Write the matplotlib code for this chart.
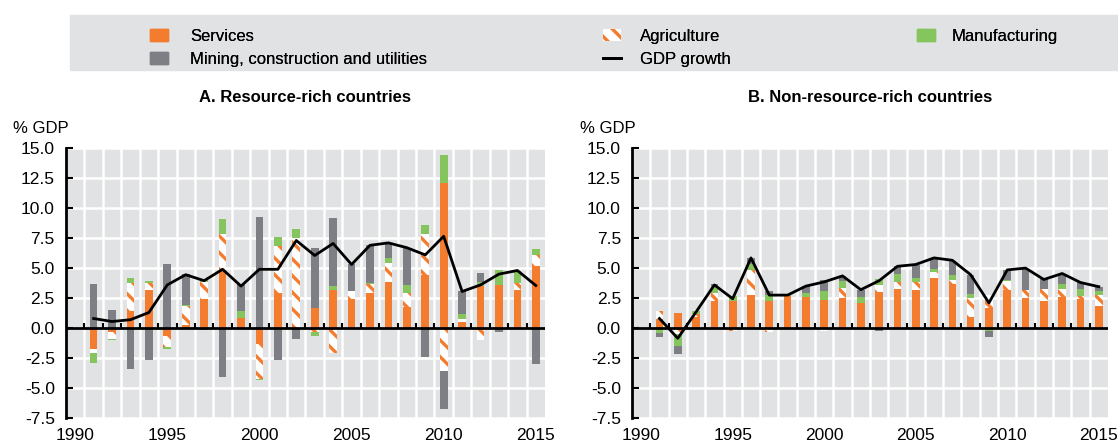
import numpy as np
import matplotlib
matplotlib.use('Agg')
import matplotlib.pyplot as plt
from matplotlib.patches import Patch, Rectangle
from matplotlib.lines import Line2D

plt.rcParams['font.family'] = ['Liberation Sans', 'DejaVu Sans']
plt.rcParams['hatch.linewidth'] = 2.4
plt.rcParams['hatch.color'] = '#f37c2f'

years = list(range(1990, 2016))
data_years = list(range(1991, 2016))
year_labels = ['1990', '1995', '2000', '2005', '2010', '2015']

# Panel A: resource-rich countries (% GDP contributions)
services_a = [-1.7, -0.35, 1.45, 3.2, -0.65, 0.3, 2.4, 4.7, 0.85, -1.3, 2.9, 0.0, 1.7,
              3.2, 2.4, 2.95, 3.85, 1.75, 4.4, 12.05, 0.5, 3.5, 3.6, 3.2, 5.15]
agri_a = [-0.4, -0.55, 2.3, 0.55, -0.95, 1.55, 1.45, 3.1, -0.15, -2.9, 3.9, 7.5, -0.3,
          -2.1, 0.7, 0.7, 1.6, 1.15, 3.4, -3.6, 0.3, -0.95, 0.0, 0.55, 0.9]
manuf_a = [-0.8, -0.1, 0.4, 0.15, -0.1, 0.1, 0.2, 1.25, 0.6, -0.1, 0.75, 0.75, -0.35,
           0.35, 0.0, 0.15, 0.35, 0.7, 0.75, 2.35, 0.4, 0.35, 1.2, 1.0, 0.5]
mining_a = [3.7, 1.55, -3.4, -2.65, 5.3, 2.55, -0.15, -4.1, 2.2, 9.25, -2.65, -0.9, 4.95,
            5.6, 2.2, 3.1, 1.3, 3.1, -2.4, -3.1, 1.9, 0.7, -0.3, 0.0, -3.0]
gdp_a = [0.8, 0.55, 0.7, 1.3, 3.6, 4.45, 3.95, 4.9, 3.5, 4.9, 4.9, 7.3, 6.05,
         7.05, 5.3, 6.9, 7.1, 6.7, 6.1, 7.65, 3.05, 3.6, 4.5, 4.8, 3.55]

# Panel B: non-resource-rich countries
services_b = [0.75, 1.3, 0.95, 2.25, 2.25, 2.8, 2.3, 2.65, 2.6, 2.35, 2.5, 2.1, 3.05,
              3.3, 3.2, 4.2, 3.7, 0.95, 1.7, 3.2, 2.55, 2.3, 2.6, 2.4, 1.85]
agri_b = [0.7, -0.5, 0.25, 0.65, -0.2, 2.0, -0.3, 0.0, -0.1, -0.2, 0.85, 0.0, 0.55,
          0.55, 0.65, 0.45, 0.35, 1.55, 1.1, 0.7, 0.65, 0.95, 0.7, 0.3, 0.95]
manuf_b = [-0.4, -1.0, 0.2, 0.6, 0.45, 0.55, 0.5, 0.15, 0.35, 0.75, 0.55, 0.5, 0.5,
           0.65, 0.3, 0.3, 0.35, 0.35, -0.2, 0.15, 0.0, 0.05, 0.4, 0.55, 0.3]
mining_b = [-0.3, -0.65, 0.0, 0.15, 0.0, 0.5, 0.3, 0.0, 0.6, 0.95, 0.4, 0.6, -0.2,
            0.65, 1.1, 0.8, 1.2, 1.55, -0.5, 0.75, 1.75, 0.8, 0.75, 0.6, 0.35]
gdp_b = [0.8, -0.85, 1.35, 3.6, 2.45, 5.85, 2.75, 2.75, 3.5, 3.85, 4.35, 3.2, 3.95,
         5.15, 5.3, 5.85, 5.65, 4.45, 2.1, 4.85, 5.0, 4.05, 4.55, 3.8, 3.45]

ORANGE = '#f37c2f'
GREY = '#7e7f84'
GREEN = '#86c55d'
BG = '#e1e2e4'
styles = {
    'Services': dict(color=ORANGE),
    'Agriculture': dict(facecolor='white', edgecolor=ORANGE, hatch='\\\\', linewidth=0),
    'Manufacturing': dict(color=GREEN),
    'Mining, construction and utilities': dict(color=GREY),
}


def draw_panel(ax, series, gdp, title):
    x = np.array([years.index(y) for y in data_years])
    pos = np.zeros(len(x))
    neg = np.zeros(len(x))
    for name, vals in series:
        vals = np.array(vals)
        bottom = np.where(vals >= 0, pos, neg)
        ax.bar(x, vals, width=0.42, bottom=bottom, zorder=3, **styles[name])
        pos += np.clip(vals, 0, None)
        neg += np.clip(vals, None, 0)
    ax.plot(x, gdp, color='black', lw=2, zorder=5)

    ax.set_facecolor(BG)
    ax.set_xlim(-0.5, len(years) - 0.5)
    ax.set_ylim(-7.5, 15)
    ax.set_yticks(np.arange(-7.5, 15.1, 2.5))
    ax.set_yticklabels([f'{v:.1f}' for v in np.arange(-7.5, 15.1, 2.5)])
    ax.set_xticks([years.index(int(l)) for l in year_labels])
    ax.set_xticklabels(year_labels)
    bounds = np.arange(0.5, len(years) - 0.5, 1)
    ax.set_xticks(bounds, minor=True)
    ax.grid(which='minor', axis='x', color='white', lw=1.8, zorder=1)
    ax.grid(which='major', axis='y', color='white', lw=1.8, zorder=1)
    ax.axhline(0, color='black', lw=2, zorder=6)
    ax.vlines(bounds, 0, 0.4, color='black', lw=1.5, zorder=6)
    for s in ['top', 'right', 'bottom']:
        ax.spines[s].set_visible(False)
    ax.spines['left'].set_linewidth(2)
    ax.tick_params(axis='y', direction='in', length=5, width=1.5, labelsize=12.5, pad=8)
    ax.tick_params(axis='x', which='both', length=0, labelsize=12.5, pad=7)
    ax.set_title(title, fontweight='bold', fontsize=12, pad=33)
    ax.text(-0.11, 1.045, '% GDP', transform=ax.transAxes, fontsize=12, ha='left', va='bottom')


fig = plt.figure(figsize=(11.18, 4.42), dpi=100)
ax1 = fig.add_axes([0.059, 0.054, 0.4285, 0.611])
ax2 = fig.add_axes([0.5653, 0.054, 0.4257, 0.611])

draw_panel(ax1, [('Services', services_a), ('Agriculture', agri_a),
                 ('Manufacturing', manuf_a), ('Mining, construction and utilities', mining_a)],
           gdp_a, 'A. Resource-rich countries')
draw_panel(ax2, [('Services', services_b), ('Agriculture', agri_b),
                 ('Manufacturing', manuf_b), ('Mining, construction and utilities', mining_b)],
           gdp_b, 'B. Non-resource-rich countries')

# legend box
fig.patches.append(Rectangle((70 / 1118, 1 - 70 / 442), 1048 / 1118, 55 / 442,
                             transform=fig.transFigure, color=BG, zorder=0))
leg_kw = dict(loc='upper left', frameon=False, fontsize=12, handlelength=1.1,
              handleheight=0.75, labelspacing=0.47, borderpad=0, borderaxespad=0)
groups = [
    ([Patch(label='Services', **styles['Services']),
      Patch(label='Mining, construction and utilities', **styles['Mining, construction and utilities'])],
     150, 1.3),
    ([Patch(label='Agriculture', **styles['Agriculture']),
      Line2D([], [], color='black', lw=2, label='GDP growth')],
     603, 1.1),
    ([Patch(label='Manufacturing', **styles['Manufacturing'])], 917, 1.0),
]
for hs, x0, tp in groups:
    fig.add_artist(fig.legend(handles=hs, bbox_to_anchor=(x0 / 1118, 1 - 29 / 442),
                              handletextpad=tp, **leg_kw))

plt.savefig('out.png', dpi=100)
